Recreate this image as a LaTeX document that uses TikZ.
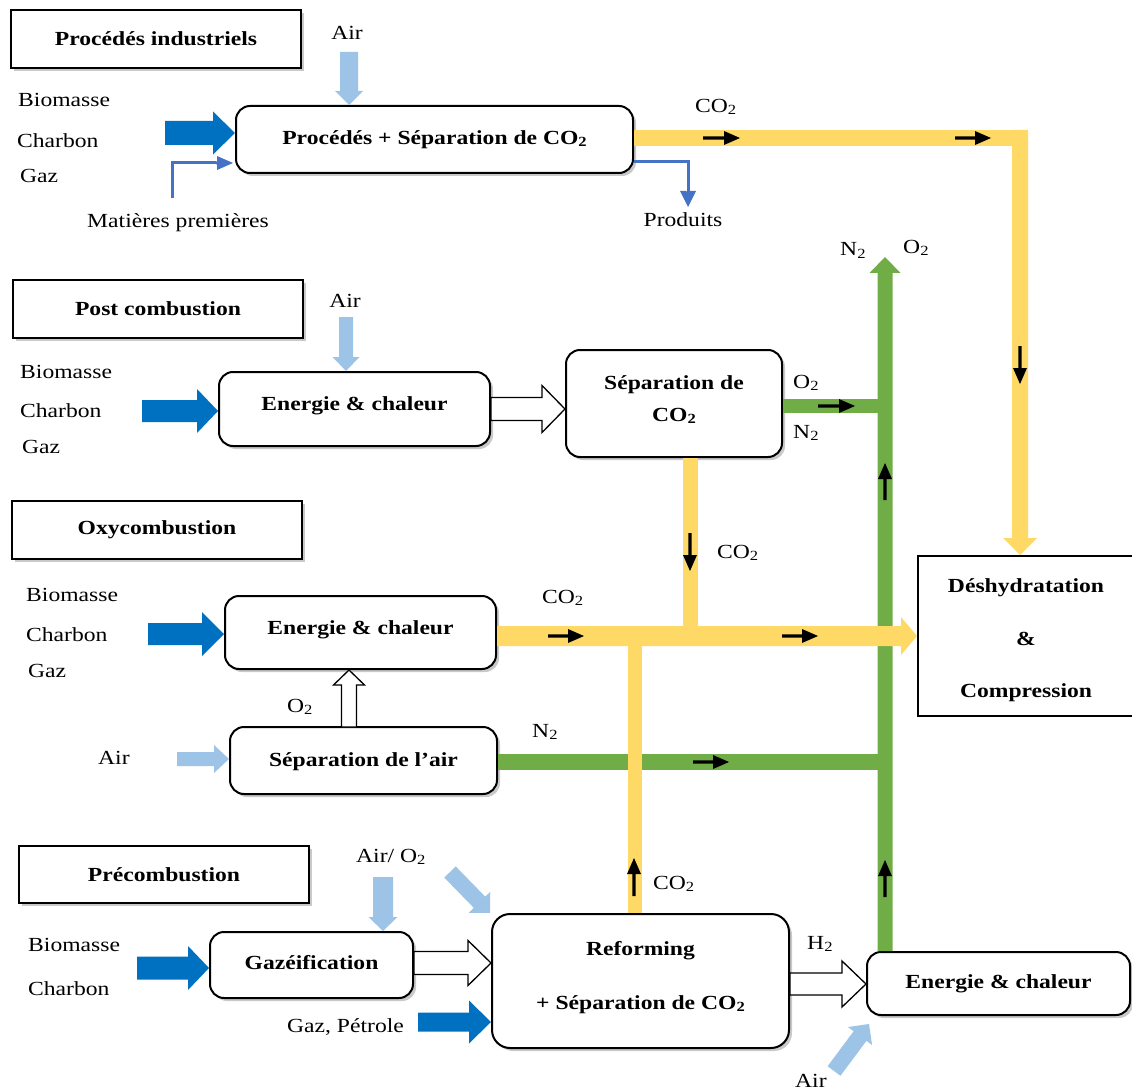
\documentclass[tikz,border=0pt]{standalone}
\usepackage{fontspec}
\setmainfont{Liberation Serif}[FakeStretch=1.18]
\usetikzlibrary{calc,shadows}

\definecolor{fuelblue}{HTML}{0070C0}
\definecolor{airblue}{HTML}{9DC3E6}
\definecolor{co2yellow}{HTML}{FFD966}
\definecolor{gasgreen}{HTML}{70AD47}
\definecolor{lineblue}{HTML}{4472C4}

\newcommand\basefont{\fontsize{20}{24}\selectfont}
\newcommand\subtwo{\raisebox{-2pt}{\fontsize{14}{14}\selectfont 2}}

% block arrow: #1 style, #2 tail, #3 tip, #4 half shaft, #5 half head, #6 head length
\newcommand\blockarrow[6]{%
  \coordinate (baS) at (#2);
  \coordinate (baT) at (#3);
  \coordinate (baH) at ($(baT)!#6!(baS)$);
  \path[#1] ($(baS)!#4!90:(baT)$) -- ($(baH)!#4!90:(baT)$) -- ($(baH)!#5!90:(baT)$) -- (baT)
    -- ($(baH)!#5!-90:(baT)$) -- ($(baH)!#4!-90:(baT)$) -- ($(baS)!#4!-90:(baT)$) -- cycle;
}

\begin{document}
\begin{tikzpicture}[x=1pt,y=-1pt,line join=miter,
  boxshadow/.style={drop shadow={shadow xshift=3pt,shadow yshift=-3pt,opacity=0.3,fill=black!70}},
  titlebox/.style={draw,line width=2.4pt,fill=white,inner sep=0pt,minimum width=290,minimum height=58,font=\basefont\bfseries,boxshadow},
  stage/.style={draw,line width=2pt,fill=white,rounded corners=14pt,inner sep=0pt,font=\basefont\bfseries,boxshadow},
  oneline/.style={text height=14pt,text depth=#1},
  lab/.style={font=\basefont,inner sep=0pt,anchor=base west},
  clab/.style={lab,anchor=base},
  fuel/.style={fill=fuelblue},
  airflow/.style={fill=airblue},
  hollow/.style={draw=black,line width=1.3pt,fill=white},
  co2band/.style={draw=co2yellow},
  n2band/.style={draw=gasgreen},
  flowtick/.style={fill=black},
  feedline/.style={draw=lineblue,line width=3pt}]

\useasboundingbox (0,0) rectangle (1132,1091);

% ---------- section titles
\node[titlebox] (t1) at (156,39) {Procédés industriels};
\node[titlebox] (t2) at (158,309) {Post combustion};
\node[titlebox] (t3) at (157,530) {Oxycombustion};
\node[titlebox,minimum height=57] (t4) at (164,874.5) {Précombustion};

% ---------- process boxes
\node[stage,oneline=4pt,minimum width=397,minimum height=67] (proc) at (434.5,139.5) {Procédés + Séparation de CO\subtwo};
\node[stage,oneline=12pt,minimum width=271,minimum height=74] (en1) at (354.5,409) {Energie \& chaleur};
\node[stage,align=center,font=\bfseries\fontsize{20}{32}\selectfont,minimum width=216,minimum height=107] (sep) at (674,403.5) {Séparation de\\CO\subtwo\rule[-10pt]{0pt}{0pt}};
\node[stage,oneline=11pt,minimum width=271,minimum height=73] (en2) at (360.5,632.5) {Energie \& chaleur};
\node[stage,oneline=3pt,minimum width=267,minimum height=67] (air) at (363.5,760.5) {Séparation de l’air};
\node[stage,oneline=6pt,minimum width=203,minimum height=66] (gaz) at (311.5,965) {Gazéification};
\node[stage,align=center,font=\bfseries\fontsize{20}{54}\selectfont,rounded corners=18pt,minimum width=297,minimum height=134] (ref) at (640.5,981) {Reforming\\+ Séparation de CO\subtwo\rule[-12pt]{0pt}{0pt}};
\node[stage,oneline=5pt,minimum width=263,minimum height=63] (en3) at (998.5,983.5) {Energie \& chaleur};
\node[draw,line width=2pt,fill=white,inner sep=0pt,align=center,font=\bfseries\fontsize{20}{52.5}\selectfont,minimum width=216,minimum height=160] (desh) at (1026,636) {\rule{0pt}{23pt}Déshydratation\\\&\\Compression};

% ---------- N2 / O2 streams
\coordinate (gTip) at (885,257);
\coordinate (o2out) at ([yshift=-2.5pt]sep.east);
\coordinate (n2out) at ([yshift=-1.5pt]air.east);
\draw[n2band,line width=14pt] (o2out) -- (o2out -| gTip);
\draw[n2band,line width=16pt] (n2out) -- (n2out -| gTip);
\blockarrow{fill=gasgreen}{gTip |- en3.north}{gTip}{7.5pt}{15.5pt}{16pt}

% ---------- CO2 streams
\coordinate (co2top) at ([yshift=1.5pt]proc.east);
\coordinate (ycorner) at (1020,138);
\draw[co2band,line width=16pt] (co2top) -- ([xshift=8pt]ycorner);
\blockarrow{fill=co2yellow}{[yshift=8pt]ycorner}{ycorner |- desh.north}{8pt}{17pt}{17pt}
\coordinate (oxyout) at ([yshift=-3.5pt]en2.east);
\coordinate (sepdown) at ([xshift=16pt]sep.south);
\coordinate (refup) at ([xshift=-5.5pt]ref.north);
\draw[co2band,line width=15pt] (sepdown) -- (sepdown |- oxyout);
\draw[co2band,line width=14pt] (refup) -- (refup |- oxyout);
\blockarrow{fill=co2yellow}{oxyout}{oxyout -| desh.west}{10pt}{19pt}{16pt}

% ---------- fuel inputs
\coordinate (fuel1) at (165,133);
\coordinate (fuel2) at (142,411);
\coordinate (fuel3) at (148,634);
\coordinate (fuel4) at (137,968);
\coordinate (fuel5) at (418,1022);
\blockarrow{fuel}{fuel1}{fuel1 -| proc.west}{12pt}{21.5pt}{22pt}
\blockarrow{fuel}{fuel2}{fuel2 -| en1.west}{11pt}{22pt}{21pt}
\blockarrow{fuel}{fuel3}{fuel3 -| en2.west}{11pt}{22pt}{22pt}
\blockarrow{fuel}{fuel4}{fuel4 -| gaz.west}{11.5pt}{22pt}{21pt}
\blockarrow{fuel}{fuel5}{fuel5 -| ref.west}{9.5pt}{21.5pt}{22pt}

% ---------- air inputs
\coordinate (air1) at (349,52);
\coordinate (air2) at (346,317);
\coordinate (air3) at (177,759);
\coordinate (air4) at (383,877);
\coordinate (air5) at (450,872);
\coordinate (air5t) at (490,913);
\coordinate (air6) at (834,1071);
\coordinate (air6t) at (869,1024);
\blockarrow{airflow}{air1}{air1 |- proc.north}{9pt}{14pt}{14pt}
\blockarrow{airflow}{air2}{air2 |- en1.north}{7pt}{13.5pt}{14pt}
\blockarrow{airflow}{air3}{air3 -| air.west}{7pt}{14pt}{15pt}
\blockarrow{airflow}{air4}{air4 |- gaz.north}{10pt}{14.5pt}{14pt}
\blockarrow{airflow}{air5}{air5t}{8pt}{15pt}{15pt}
\blockarrow{airflow}{air6}{air6t}{8pt}{15pt}{15pt}

% ---------- transfers between units
\coordinate (o2up) at (349,727);
\coordinate (syngas) at ([yshift=2pt]gaz.east);
\coordinate (h2out) at ([yshift=-3pt]ref.east);
\blockarrow{hollow}{en1.east}{en1.east -| sep.west}{11.5pt}{23.5pt}{23pt}
\blockarrow{hollow}{o2up}{o2up |- en2.south}{7.5pt}{15.5pt}{15pt}
\blockarrow{hollow}{syngas}{syngas -| ref.west}{11.5pt}{22.5pt}{23pt}
\blockarrow{hollow}{h2out}{h2out -| en3.west}{11pt}{23pt}{24pt}

% ---------- raw materials and products
\coordinate (mp0) at (172,198);
\coordinate (mp1) at (172,163);
\coordinate (mp2) at (216,163);
\coordinate (mpTip) at (233,163);
\draw[feedline] (mp0) -- (mp1) -- (mp2);
\blockarrow{fill=lineblue}{mp2}{mpTip}{1.5pt}{7pt}{16pt}
\coordinate (pr0) at ([yshift=-22.5pt]proc.east);
\coordinate (pr1) at (688,162);
\coordinate (pr2) at (688,192);
\coordinate (prTip) at (688,207);
\draw[feedline] (pr0) -- (pr1) -- (pr2);
\blockarrow{fill=lineblue}{pr2}{prTip}{1.5pt}{8pt}{16pt}

% ---------- direction ticks on the streams
\blockarrow{flowtick}{703,138}{740,138}{1.6pt}{7pt}{16pt}
\blockarrow{flowtick}{955,138}{991,138}{1.6pt}{7pt}{16pt}
\blockarrow{flowtick}{1020,346}{1020,384}{1.6pt}{7pt}{16pt}
\blockarrow{flowtick}{818,406}{855,406}{1.6pt}{7pt}{16pt}
\blockarrow{flowtick}{885,500}{885,463}{1.6pt}{7pt}{16pt}
\blockarrow{flowtick}{690,533}{690,571}{1.6pt}{7pt}{16pt}
\blockarrow{flowtick}{548,636}{584,636}{1.6pt}{7pt}{16pt}
\blockarrow{flowtick}{782,636}{818,636}{1.6pt}{7pt}{16pt}
\blockarrow{flowtick}{693,762}{729,762}{1.6pt}{7pt}{16pt}
\blockarrow{flowtick}{634,896}{634,858}{1.6pt}{7pt}{16pt}
\blockarrow{flowtick}{885,897}{885,860}{1.6pt}{7pt}{16pt}

% ---------- labels
\node[clab] (lAir1) at (347,40) {Air};
\node[lab] (lBio1) at (18,107) {Biomasse};
\node[lab] (lCha1) at (17,148) {Charbon};
\node[lab] (lGaz1) at (20,183) {Gaz};
\node[clab] (lMat) at (178,228) {Matières premières};
\node[lab] (lCO2a) at (695,113) {CO\subtwo};
\node[clab] (lProd) at (683,227) {Produits};
\node[lab] (lN2a) at (840,256) {N\subtwo};
\node[lab] (lO2a) at (903,254) {O\subtwo};

\node[clab] (lAir2) at (345,307) {Air};
\node[lab] (lBio2) at (20,378) {Biomasse};
\node[lab] (lCha2) at (20,417) {Charbon};
\node[lab] (lGaz2) at (22,453) {Gaz};
\node[lab] (lO2b) at (793,388) {O\subtwo};
\node[lab] (lN2b) at (793,438) {N\subtwo};
\node[lab] (lCO2b) at (717,558) {CO\subtwo};

\node[lab] (lBio3) at (26,601) {Biomasse};
\node[lab] (lCha3) at (26,641) {Charbon};
\node[lab] (lGaz3) at (28,677) {Gaz};
\node[lab] (lCO2c) at (542,603) {CO\subtwo};
\node[lab] (lO2c) at (287,712) {O\subtwo};
\node[lab] (lAir3) at (98,764) {Air};
\node[lab] (lN2c) at (532,737) {N\subtwo};

\node[lab] (lAir4) at (356,862) {Air/ O\subtwo};
\node[lab] (lBio4) at (28,951) {Biomasse};
\node[lab] (lCha4) at (28,995) {Charbon};
\node[lab] (lGP) at (287,1032) {Gaz, Pétrole};
\node[lab] (lCO2d) at (653,889) {CO\subtwo};
\node[lab] (lH2) at (807,949) {H\subtwo};
\node[lab] (lAir5) at (795,1087) {Air};

\end{tikzpicture}
\end{document}
